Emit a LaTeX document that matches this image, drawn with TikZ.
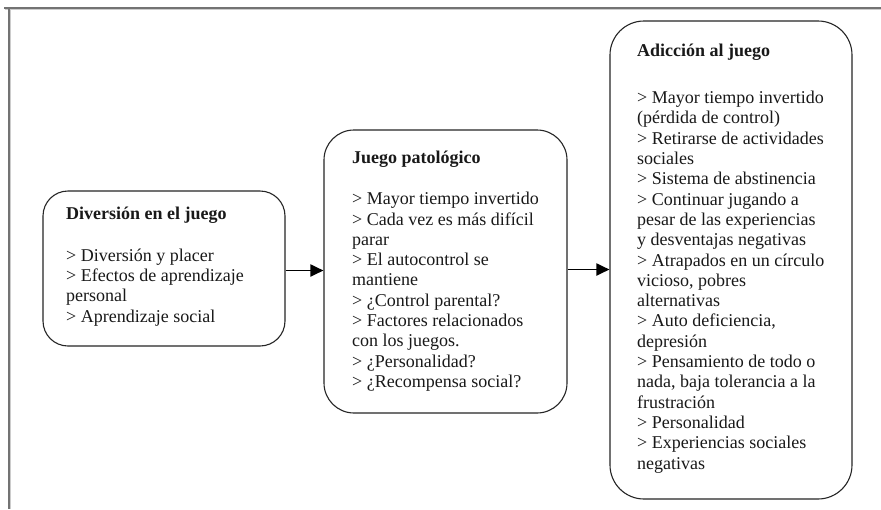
\documentclass[tikz,border=0pt]{standalone}
\usepackage{fontspec}
\setmainfont{Liberation Serif}
\usetikzlibrary{arrows.meta}
\tikzset{
  boxnode/.style={draw=black!85, line width=1.1pt, fill=white, inner sep=0pt},
  txtnode/.style={anchor=north west, inner sep=0pt, align=left, text=black!90,
    font={\fontsize{18}{20.3}\selectfont}},
  arr/.style={line width=1.9pt, -{Triangle[length=13pt,width=12pt]}},
  frame/.style={draw=black!55, line width=1.2pt}
}
\begin{document}
\begin{tikzpicture}[x=1pt,y=-1pt]
\useasboundingbox (0,0) rectangle (881,509);
\fill[white] (0,0) rectangle (881,509);
% frame
\draw[black!20, line width=1pt] (5,9.6) -- (881,9.6);
\draw[black!20, line width=1pt] (10.6,9) -- (10.6,509);
\draw[frame] (4,8) -- (881,8);
\draw[frame] (9,8) -- (9,509);
% boxes
\node[boxnode, rounded corners=25pt, minimum width=242pt, minimum height=155pt] (b1) at (164,268.5) {};
\node[boxnode, rounded corners=30pt, minimum width=243pt, minimum height=283pt] (b2) at (445.5,271.5) {};
\node[boxnode, rounded corners=34pt, minimum width=242pt, minimum height=478pt] (b3) at (731,260) {};
% texts
\node[txtnode] (t1) at (66,205.5) {\strut\textbf{Diversión en el juego}\\[21pt]
> Diversión y placer\\
> Efectos de aprendizaje\\
personal\\
> Aprendizaje social};
\node[txtnode] (t2) at (352,149.5) {\strut\textbf{Juego patológico}\\[20.5pt]
> Mayor tiempo invertido\\
> Cada vez es más difícil\\
parar\\
> El autocontrol se\\
mantiene\\
> ¿Control parental?\\
> Factores relacionados\\
con los juegos.\\
> ¿Personalidad?\\
> ¿Recompensa social?};
\node[txtnode] (t3) at (637,41.9) {\strut\textbf{Adicción al juego}\\[27pt]
> Mayor tiempo invertido\\
(pérdida de control)\\
> Retirarse de actividades\\
sociales\\
> Sistema de abstinencia\\
> Continuar jugando a\\
pesar de las experiencias\\
y desventajas negativas\\
> Atrapados en un círculo\\
vicioso, pobres\\
alternativas\\
> Auto deficiencia,\\
depresión\\
> Pensamiento de todo o\\
nada, baja tolerancia a la\\
frustración\\
> Personalidad\\
> Experiencias sociales\\
negativas};
% arrows
\draw[arr] ([yshift=-2pt]b1.east) -- ([yshift=-2pt]b1.east -| b2.west);
\draw[arr] ([yshift=2pt]b2.east) -- ([yshift=2pt]b2.east -| b3.west);
\end{tikzpicture}
\end{document}
